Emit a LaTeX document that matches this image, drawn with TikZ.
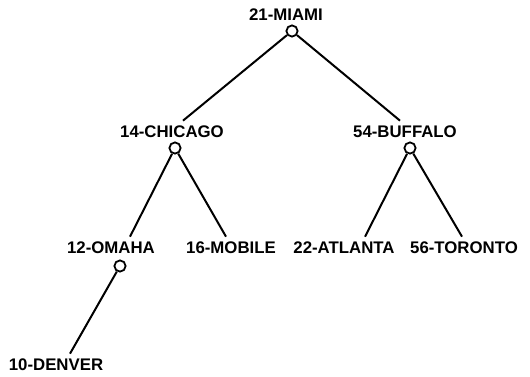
\documentclass[tikz,border=0pt]{standalone}
\usepackage{fontspec}
\setmainfont{Liberation Sans}
\usetikzlibrary{positioning}
\tikzset{
  city/.style={font=\fontsize{8.4}{10}\selectfont\bfseries, inner xsep=1pt,
               inner ysep=2.5pt, text=black},
  knot/.style={circle, draw=black, line width=0.9pt, minimum size=5.6pt, inner sep=0pt},
  branch/.style={line width=1pt, draw=black},
}

\begin{document}
\begin{tikzpicture}[x=0.5pt, y=-0.5pt]
  \fill[white] (0,0) rectangle (530,376);
  \useasboundingbox (0,0) rectangle (530,376);
  % root
  \node[city] (miami) at (286,15) {21-MIAMI};
  \node[knot] (miami-c) at (292,31) {};
  % second level
  \node[city] (chicago) at (172,132) {14-CHICAGO};
  \node[knot] (chicago-c) at (175,148) {};
  \node[city] (buffalo) at (405,132) {54-BUFFALO};
  \node[knot] (buffalo-c) at (410,148) {};
  % third level
  \node[city] (omaha) at (111,248) {12-OMAHA};
  \node[knot] (omaha-c) at (120,266) {};
  \node[city] (mobile) at (231,248) {16-MOBILE};
  \node[city] (atlanta) at (344,248) {22-ATLANTA};
  \node[city] (toronto) at (464,248) {56-TORONTO};
  % fourth level
  \node[city] (denver) at (56,365) {10-DENVER};
  \draw[branch] (miami-c) -- ([xshift=5.5pt]chicago.north);
  \draw[branch] (miami-c) -- ([xshift=-2.5pt]buffalo.north);
  \draw[branch] (chicago-c) -- ([xshift=9.5pt]omaha.north);
  \draw[branch] (chicago-c) -- ([xshift=-2.5pt]mobile.north);
  \draw[branch] (buffalo-c) -- ([xshift=10.5pt]atlanta.north);
  \draw[branch] (buffalo-c) -- ([xshift=-1pt]toronto.north);
  \draw[branch] (omaha-c) -- ([xshift=7pt]denver.north);
\end{tikzpicture}
\end{document}
